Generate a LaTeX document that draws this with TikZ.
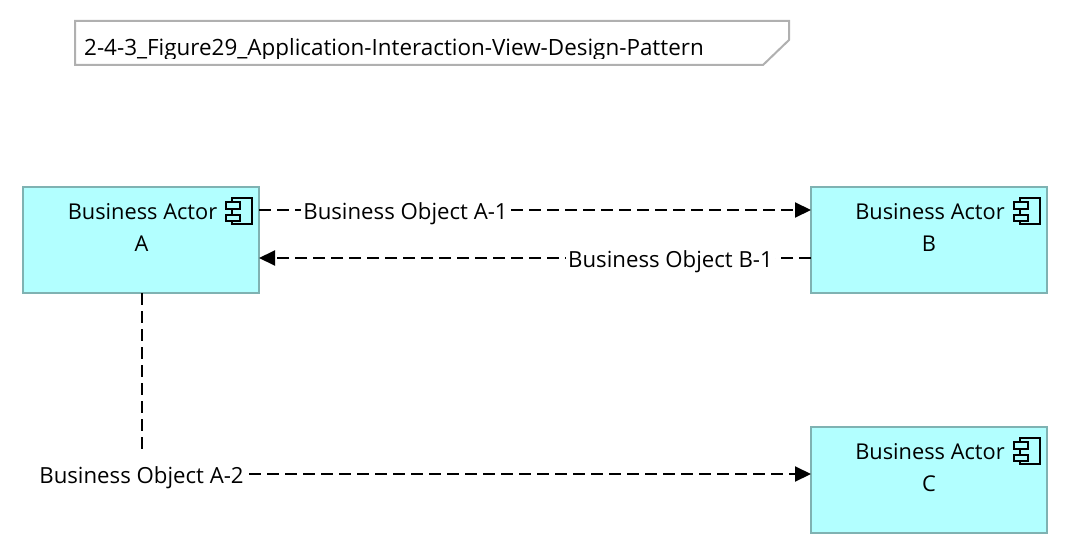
\documentclass[tikz,border=0pt]{standalone}
\usepackage{fontspec}
\setmainfont{Open Sans}
\usetikzlibrary{arrows.meta}
\definecolor{actorfill}{HTML}{B2FFFF}
\definecolor{actoredge}{HTML}{7FB2B2}
\definecolor{noteedge}{HTML}{B0B0B0}
\newcommand{\txt}{\fontsize{22.2pt}{26pt}\selectfont}
\newcommand{\actortxt}{\fontsize{21.8pt}{26pt}\selectfont}
\newcommand{\compicon}[1]{%
  \begin{scope}[shift={(#1.north east)}]
    \draw[iconline] (-27.5,11) rectangle (-7,37);
    \draw[iconline,fill=actorfill] (-33.5,15) rectangle (-19.5,22);
    \draw[iconline,fill=actorfill] (-33.5,27.5) rectangle (-19.5,34);
  \end{scope}}
\tikzset{
  x=1pt,y=-1pt,
  actorbox/.style={draw=actoredge,fill=actorfill,line width=2pt,minimum width=236pt,minimum height=106pt,inner sep=0pt,outer sep=0pt},
  actortext/.style={inner sep=0pt,font=\actortxt,text=black},
  flowlabel/.style={inner xsep=2pt,inner ysep=0pt,font=\txt,text=black,fill=white,text height=16pt,text depth=6pt},
  flow/.style={line width=2pt,dash pattern=on 12pt off 6pt,-{Triangle[length=16pt,width=15pt]}},
  iconline/.style={draw=black,line width=2pt},
  noteshape/.style={draw=noteedge,line width=2pt,fill=white}
}
\begin{document}
\begin{tikzpicture}
\useasboundingbox (0,0) rectangle (1070,556);
\draw[noteshape] (75,21) -- (789,21) -- (789,40) -- (763,65) -- (75,65) -- cycle;
\begin{scope}
\clip (76,22) rectangle (788,59);
\node[actortext,anchor=west,font=\fontsize{22.42pt}{26pt}\selectfont] (title) at (84,50) {2-4-3\_Figure29\_Application-Interaction-View-Design-Pattern};
\end{scope}
\node[actorbox] (a) at (141,240) {};
\node[actorbox] (b) at (929,240) {};
\node[actorbox] (c) at (929,480) {};
\node[actortext] (a1) at (142.5,212) {Business Actor};
\node[actortext] (a2) at (141.5,244) {A};
\node[actortext] (b1) at (930,212) {Business Actor};
\node[actortext] (b2) at (929,244) {B};
\node[actortext] (c1) at (930,452) {Business Actor};
\node[actortext] (c2) at (929,484) {C};
\compicon{a}\compicon{b}\compicon{c}
\draw[flow] ([yshift=30pt]a.east) -- ([yshift=30pt]b.west);
\draw[flow] ([yshift=-18pt]b.west) -- ([yshift=-18pt]a.east);
\draw[flow] ([xshift=1pt]a.south) |- ([yshift=6pt]c.west);
\node[flowlabel] (la) at (405.5,214) {Business Object A-1};
\node[flowlabel] (lb) at (670.5,262) {Business Object B-1};
\node[flowlabel,inner xsep=0pt,minimum height=52pt] (lc) at (141.5,478) {Business Object A-2};
\end{tikzpicture}
\end{document}
